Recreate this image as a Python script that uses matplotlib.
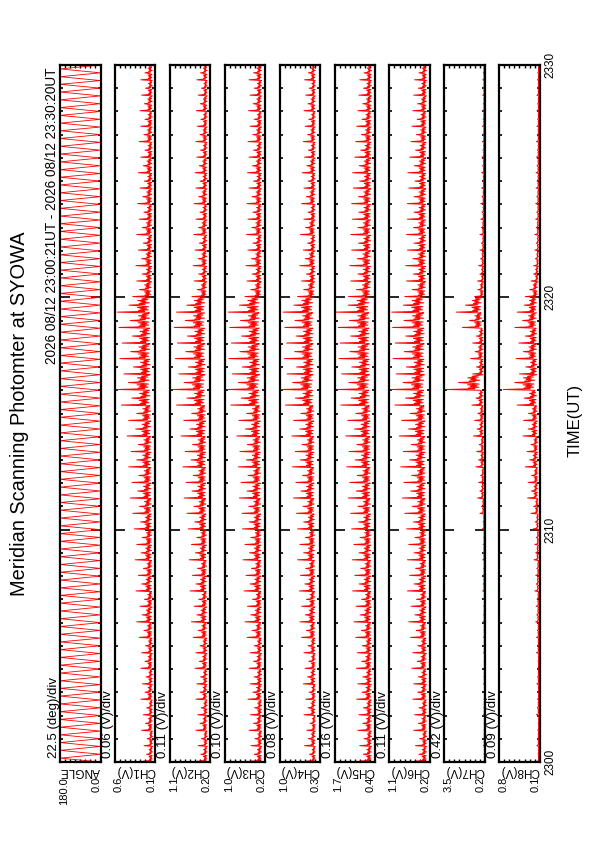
import numpy as np
import matplotlib
matplotlib.use('Agg')
import matplotlib.pyplot as plt
from matplotlib.ticker import MultipleLocator, FixedLocator

plt.rcParams['font.family'] = ['Liberation Sans', 'DejaVu Sans']

# ---- data (minutes after 23:00 UT) ----
scan_start = [0.00, 0.67, 1.33, 2.00, 2.67, 3.33, 4.00, 4.67, 5.33, 6.00,
              6.67, 7.33, 8.00, 8.67, 9.33, 10.00, 10.67, 11.33, 12.00, 12.67,
              13.33, 14.00, 14.67, 15.33, 16.00, 16.67, 17.33, 18.00, 18.67, 19.33,
              20.00, 20.67, 21.33, 22.00, 22.67, 23.33, 24.00, 24.67, 25.33, 26.00,
              26.67, 27.33, 28.00, 28.67, 29.33]
scan_len = 0.667
# angle at the turning points inside one scan (two sweeps each way)
angle_turn = [0.0, 180.0, 0.0, 180.0]

# shape of one scan (relative brightness along the scan)
scan_shape = [0.12, 1.00, 0.25, 0.42, 0.15, 0.38, 0.20, 0.45, 0.14, 0.35,
              0.68, 0.24, 0.40, 0.12, 0.36, 0.22, 0.44, 0.16, 0.33, 0.20]

names = ['ANGLE', 'CH1(V)', 'CH2(V)', 'CH3(V)', 'CH4(V)', 'CH5(V)', 'CH6(V)', 'CH7(V)', 'CH8(V)']
vmin = [0.0, 0.1, 0.2, 0.2, 0.3, 0.4, 0.2, 0.2, 0.1]
vmax = [180.0, 0.6, 1.1, 1.0, 1.0, 1.7, 1.1, 3.5, 0.8]
vmin_lbl = ['0.0', '0.1', '0.2', '0.2', '0.3', '0.4', '0.2', '0.2', '0.1']
vmax_lbl = ['180.0', '0.6', '1.1', '1.0', '1.0', '1.7', '1.1', '3.5', '0.8']
div_lbl = ['22.5 (deg)/div', '0.06 (V)/div', '0.11 (V)/div', '0.10 (V)/div', '0.08 (V)/div',
           '0.16 (V)/div', '0.11 (V)/div', '0.42 (V)/div', '0.09 (V)/div']

ch_base = [0.12, 0.24, 0.24, 0.36, 0.46, 0.24, 0.22, 0.11]

ch1_peak = [0.25, 0.24, 0.27, 0.25, 0.28, 0.26, 0.28, 0.27, 0.30, 0.33, 0.29, 0.34, 0.31, 0.35, 0.33,
            0.36, 0.38, 0.41, 0.39, 0.43, 0.40, 0.45, 0.43, 0.52, 0.58, 0.49, 0.54, 0.51, 0.55, 0.57,
            0.38, 0.33, 0.34, 0.31, 0.33, 0.30, 0.32, 0.29, 0.31, 0.28, 0.30, 0.28, 0.29, 0.27, 0.28]
ch2_peak = [0.49, 0.47, 0.52, 0.48, 0.52, 0.50, 0.54, 0.52, 0.58, 0.62, 0.56, 0.65, 0.60, 0.67, 0.62,
            0.69, 0.72, 0.78, 0.74, 0.81, 0.76, 0.85, 0.79, 0.95, 1.04, 0.90, 0.98, 0.93, 1.00, 0.95,
            0.61, 0.56, 0.58, 0.54, 0.57, 0.52, 0.56, 0.52, 0.54, 0.50, 0.52, 0.49, 0.51, 0.47, 0.50]
ch3_peak = [0.50, 0.48, 0.52, 0.49, 0.54, 0.50, 0.52, 0.50, 0.56, 0.60, 0.55, 0.62, 0.58, 0.64, 0.60,
            0.65, 0.66, 0.71, 0.68, 0.73, 0.70, 0.76, 0.72, 0.88, 0.96, 0.85, 0.92, 0.87, 0.90, 0.93,
            0.60, 0.56, 0.58, 0.54, 0.57, 0.54, 0.56, 0.52, 0.55, 0.52, 0.54, 0.50, 0.53, 0.50, 0.52]
ch4_peak = [0.54, 0.57, 0.53, 0.58, 0.55, 0.59, 0.56, 0.58, 0.62, 0.65, 0.62, 0.66, 0.64, 0.69, 0.65,
            0.69, 0.71, 0.76, 0.72, 0.78, 0.73, 0.79, 0.76, 0.90, 0.97, 0.87, 0.92, 0.88, 0.91, 0.94,
            0.69, 0.62, 0.65, 0.59, 0.64, 0.58, 0.62, 0.58, 0.61, 0.57, 0.59, 0.56, 0.58, 0.55, 0.57]
ch5_peak = [0.92, 0.89, 0.95, 0.92, 0.99, 0.95, 1.00, 0.97, 1.02, 1.08, 1.01, 1.12, 1.05, 1.13, 1.08,
            1.15, 1.18, 1.26, 1.21, 1.31, 1.23, 1.34, 1.28, 1.50, 1.60, 1.47, 1.56, 1.52, 1.58, 1.64,
            1.25, 1.18, 1.21, 1.15, 1.18, 1.13, 1.15, 1.10, 1.12, 1.05, 1.02, 0.99, 0.95, 0.92, 0.89]
ch6_peak = [0.54, 0.52, 0.56, 0.54, 0.58, 0.56, 0.60, 0.58, 0.63, 0.67, 0.62, 0.70, 0.65, 0.70, 0.67,
            0.72, 0.76, 0.81, 0.78, 0.85, 0.79, 0.88, 0.83, 0.98, 1.06, 0.95, 1.02, 0.97, 1.03, 1.05,
            0.76, 0.72, 0.74, 0.70, 0.72, 0.70, 0.70, 0.67, 0.69, 0.65, 0.62, 0.60, 0.58, 0.56, 0.54]
ch7_peak = [0.27, 0.30, 0.27, 0.30, 0.27, 0.30, 0.27, 0.30, 0.30, 0.33, 0.30, 0.37, 0.33, 0.37, 0.33,
            0.40, 0.60, 0.79, 0.70, 0.93, 0.86, 1.12, 1.03, 1.26, 3.34, 1.19, 1.36, 1.19, 2.02, 2.51,
            1.03, 0.79, 0.70, 0.60, 0.60, 0.53, 0.53, 0.46, 0.46, 0.43, 0.40, 0.40, 0.37, 0.37, 0.37]
ch8_peak = [0.14, 0.15, 0.135, 0.156, 0.14, 0.15, 0.14, 0.156, 0.156, 0.17, 0.163, 0.184, 0.17, 0.198, 0.184,
            0.21, 0.25, 0.31, 0.30, 0.35, 0.32, 0.39, 0.38, 0.49, 0.73, 0.45, 0.51, 0.46, 0.53, 0.49,
            0.35, 0.25, 0.205, 0.184, 0.184, 0.17, 0.17, 0.163, 0.163, 0.156, 0.156, 0.149, 0.149, 0.149, 0.142]
ch_peaks = [ch1_peak, ch2_peak, ch3_peak, ch4_peak, ch5_peak, ch6_peak, ch7_peak, ch8_peak]

time_lbl = ['2300', '2310', '2320', '2330']

# ---- build series ----
ang_t, ang_v = [], []
nturn = len(angle_turn)
for s in scan_start:
    for k, a in enumerate(angle_turn):
        ang_t.append(s + k * scan_len / nturn)
        ang_v.append(a)
ang_t.append(30.0)
ang_v.append(angle_turn[0])

nshape = len(scan_shape)
ch_t = []
for s in scan_start:
    for k in range(nshape):
        ch_t.append(s + k * scan_len / nshape)
ch_t = np.array(ch_t)

ch_series = []
for base, peaks in zip(ch_base, ch_peaks):
    vals = []
    for p in peaks:
        for sh in scan_shape:
            vals.append(base + (p - base) * sh)
    ch_series.append(np.array(vals))

# ---- figure (portrait page, rotated landscape plot) ----
W, H = 595, 842
fig = plt.figure(figsize=(W / 100, H / 100), dpi=100)

def fx(x):
    return x / W

def fy(y):
    return 1 - y / H

left0, pitch, pw = 60, 54.9, 40.5
top, bot = 65, 762

for j in range(9):
    x0 = left0 + j * pitch
    ax = fig.add_axes([fx(x0), fy(bot), pw / W, (bot - top) / H])
    if j == 0:
        ax.plot(ang_v, ang_t, color='red', lw=0.6)
    else:
        ax.plot(ch_series[j - 1], ch_t, color='red', lw=0.7)
    ax.set_xlim(vmax[j], vmin[j])
    ax.set_ylim(0, 30)
    ax.yaxis.set_major_locator(MultipleLocator(10))
    ax.yaxis.set_minor_locator(MultipleLocator(1))
    ax.xaxis.set_major_locator(FixedLocator(np.linspace(vmin[j], vmax[j], 9)[1:-1]))
    ax.tick_params(axis='y', which='both', direction='in', left=True, right=True,
                   labelleft=False, width=1.2, color='black')
    ax.tick_params(axis='y', which='major', length=7)
    ax.tick_params(axis='y', which='minor', length=2.5)
    ax.tick_params(axis='x', which='major', direction='in', top=True, bottom=True,
                   labelbottom=False, length=2.5, width=1.0)
    for sp in ax.spines.values():
        sp.set_linewidth(1.6)

    # labels
    fig.text(fx(x0 - 6.5), fy(758), div_lbl[j], rotation=90, ha='center', va='bottom', fontsize=9.5)
    fig.text(fx(x0 + pw / 2), fy(771), names[j], rotation=180, ha='center', va='center', fontsize=8.5)
    fig.text(fx(x0 + 4), fy(777), vmax_lbl[j], rotation=90, ha='center', va='top', fontsize=8)
    fig.text(fx(x0 + pw - 4), fy(777), vmin_lbl[j], rotation=90, ha='center', va='top', fontsize=8)

for k, lbl in enumerate(time_lbl):
    fig.text(fx(550), fy(bot - k * (bot - top) / 3), lbl, rotation=90, ha='center', va='center', fontsize=8.5)

fig.text(fx(575), fy(420), 'TIME(UT)', rotation=90, ha='center', va='center', fontsize=12)
fig.text(fx(52.5), fy(67), '2026 08/12 23:00:21UT - 2026 08/12 23:30:20UT',
         rotation=90, ha='center', va='top', fontsize=9.8)
fig.text(fx(20), fy(414), 'Meridian Scanning Photomter at SYOWA',
         rotation=90, ha='center', va='center', fontsize=14.4)

fig.savefig('out.png', dpi=100)
